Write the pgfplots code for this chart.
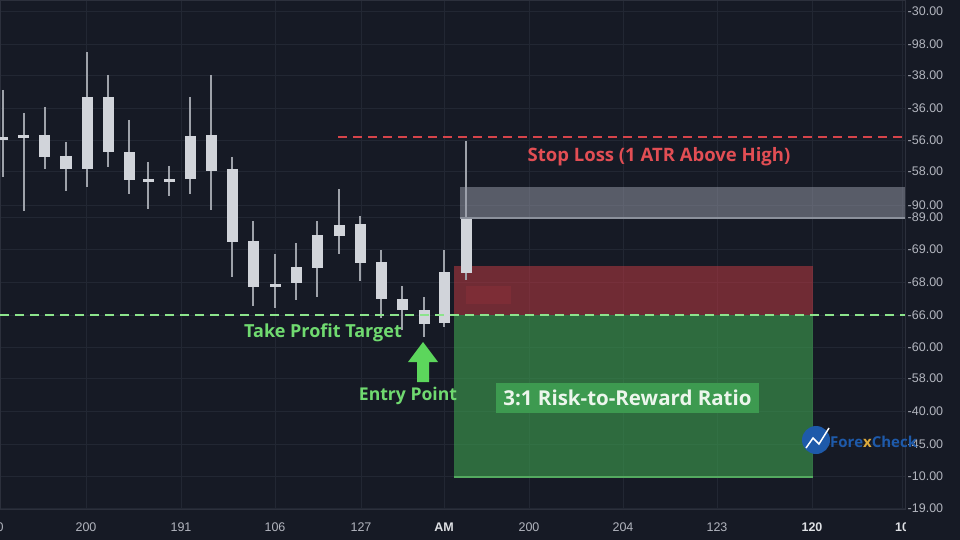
\documentclass[border=0pt]{standalone}
\usepackage{fontspec}
\setmainfont{Liberation Sans}
\newfontfamily\annfont{Open Sans}
\usepackage{pgfplots}
\usepackage{pgfplotstable}
\pgfplotsset{compat=1.18}
\definecolor{bgc}{RGB}{22,26,37}
\definecolor{gridc}{RGB}{34,39,51}
\definecolor{axc}{RGB}{44,48,60}
\definecolor{tickc}{RGB}{178,181,190}
\definecolor{tickw}{RGB}{222,224,228}
\definecolor{wick}{RGB}{158,162,170}
\definecolor{bodyc}{RGB}{209,212,218}
\definecolor{redc}{RGB}{187,57,66}
\definecolor{greenc}{RGB}{62,161,80}
\definecolor{grayc}{RGB}{154,158,171}
\definecolor{graybd}{RGB}{140,145,156}
\definecolor{greenbd}{RGB}{84,170,96}
\definecolor{sltext}{RGB}{226,78,84}
\definecolor{sldash}{RGB}{214,68,74}
\definecolor{tptext}{RGB}{112,218,112}
\definecolor{tpdash}{RGB}{140,228,140}
\definecolor{arrowc}{RGB}{92,214,92}
\definecolor{boxc}{RGB}{61,154,80}
\definecolor{boxtext}{RGB}{236,246,236}
\definecolor{logoblue}{RGB}{30,90,170}
\definecolor{logogold}{RGB}{220,170,60}

% candles in screen pixel units: x, wick high, wick low, body top, body bottom
\pgfplotstableread{
x   hi  lo  bt  bb
3   90  177 137 140
24  113 211 135 138
45  107 169 135 157
66  142 191 156 169
87  52  187 97  169
108 75  167 97  152
129 120 194 152 180
148 162 209 179 182
169 166 196 179 182
190 97  194 136 179
211 75  210 135 171
232 157 277 169 242
253 221 306 241 287
275 254 308 284 287
296 243 300 267 283
317 221 297 235 268
339 189 254 225 236
360 216 281 224 263
381 250 318 262 299
402 286 330 299 310
424 297 337 310 324
444 250 327 272 323
466 141 280 218 273
}\candles

\begin{document}
\begin{tikzpicture}[x=1pt,y=1pt]
\useasboundingbox (0,-31) rectangle (960,509);
\fill[bgc] (0,-31) rectangle (960,509);
\begin{axis}[
  at={(0,0)}, anchor=south west,
  scale only axis, width=905pt, height=509pt,
  xmin=0, xmax=905, ymin=0, ymax=509, y dir=reverse,
  clip=false,
  axis line style={color=axc, line width=0.8pt},
  major tick length=0pt,
  grid=major, major grid style={color=gridc, line width=0.8pt},
  xtick={0,86,181,275,361,444,529,623,717,812,902},
  xticklabels={0,200,191,106,127,{\color{tickw}\bfseries AM},200,204,123,{\color{tickw}\bfseries 120},{\color{tickw}\bfseries 10}},
  xticklabel style={anchor=center, yshift=-18pt, font=\fontsize{12.5}{14}\selectfont, text=tickc},
  ytick={11,44,75,108,140,171,205,217,249,282,315,347,378,411,444,476,508},
  yticklabels={-30.00,-98.00,-38.00,-36.00,-56.00,-58.00,-90.00,-89.00,-69.00,-68.00,-66.00,-60.00,-58.00,-40.00,-45.00,-10.00,-19.00},
  yticklabel pos=right,
  yticklabel style={anchor=west, inner sep=2.5pt, font=\fontsize{12.5}{14}\selectfont, text=tickc},
]
% risk / reward zones
\addplot[fill=redc, fill opacity=0.55, draw=none, forget plot] coordinates {(454,266)(813,266)(813,315)(454,315)} -- cycle;
\addplot[fill=redc, fill opacity=0.18, draw=none, forget plot] coordinates {(466,286)(511,286)(511,304)(466,304)} -- cycle;
\addplot[fill=greenc, fill opacity=0.6, draw=none, forget plot] coordinates {(454,315)(813,315)(813,477)(454,477)} -- cycle;
\addplot[greenbd, line width=1.2pt, forget plot] coordinates {(454,477)(813,477)};
% wicks
\addplot[draw=none, mark=none, forget plot,
  error bars/.cd, y dir=plus, y explicit, error mark=none,
  error bar style={draw=wick, line width=1.4pt}]
  table[x=x, y=hi, y error expr=\thisrow{lo}-\thisrow{hi}] {\candles};
% bodies
\addplot[draw=none, mark=none, forget plot,
  error bars/.cd, y dir=plus, y explicit, error mark=none,
  error bar style={draw=bodyc, line width=11pt}]
  table[x=x, y=bt, y error expr=\thisrow{bb}-\thisrow{bt}] {\candles};
% gray zone
\addplot[fill=grayc, fill opacity=0.5, draw=none, forget plot] coordinates {(460,187)(905,187)(905,218)(460,218)} -- cycle;
\addplot[graybd, line width=1.2pt, forget plot] coordinates {(460,218)(905,218)};
% stop loss and take profit lines
\addplot[sldash, line width=1.4pt, dash pattern=on 9pt off 6pt, forget plot] coordinates {(338,137)(905,137)};
\addplot[tpdash, line width=1.4pt, dash pattern=on 9pt off 6pt, forget plot] coordinates {(0,315)(905,315)};
% label box
\addplot[fill=boxc, draw=none, forget plot] coordinates {(496,383)(759,383)(759,413)(496,413)} -- cycle;
\node[font=\annfont\fontsize{20.5}{24}\selectfont\bfseries, text=boxtext] at (axis cs:627.5,398) {3:1 Risk-to-Reward Ratio};
% annotations
\node[font=\annfont\fontsize{18.5}{22}\selectfont\bfseries, text=sltext] at (axis cs:659,157) {Stop Loss (1 ATR Above High)};
\node[font=\annfont\fontsize{18}{22}\selectfont\bfseries, text=tptext] at (axis cs:323,333) {Take Profit Target};
\node[font=\annfont\fontsize{17.6}{22}\selectfont\bfseries, text=tptext] at (axis cs:408,396) {Entry Point};
\fill[arrowc] (axis cs:423,342) -- (axis cs:438,362) -- (axis cs:429,362) -- (axis cs:429,382) -- (axis cs:417,382) -- (axis cs:417,362) -- (axis cs:408,362) -- cycle;
% watermark
\fill[logoblue] (axis cs:816,440) circle[radius=14pt];
\draw[white, line width=1.5pt] (axis cs:806,448) -- (axis cs:813,438) -- (axis cs:819,444) -- (axis cs:829,428);
\node[anchor=west, inner sep=0pt, font=\annfont\fontsize{15}{18}\selectfont\bfseries, text=logoblue] at (axis cs:830,442) {Fore{\color{logogold}x}Check};
\end{axis}
\fill[bgc] (906,-31) rectangle (960,-10);
\end{tikzpicture}
\end{document}
